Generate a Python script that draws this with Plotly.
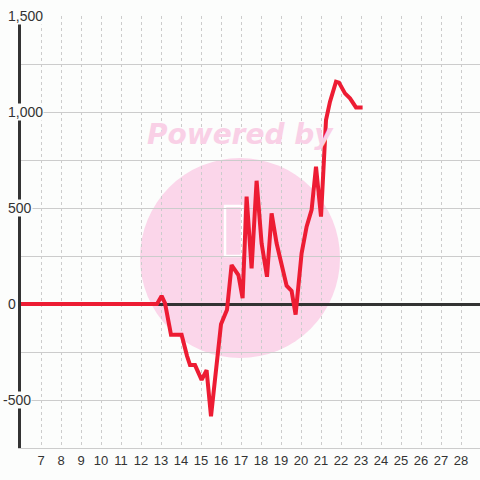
import plotly.graph_objects as go

# ---- data ----
day = [6.0, 12.8, 13.03, 13.2, 13.5, 14.03, 14.3, 14.45, 14.7, 15.03, 15.28, 15.5,
       16.0, 16.3, 16.53, 16.87, 17.08, 17.28, 17.53, 17.78, 18.03, 18.3, 18.53, 18.78,
       19.28, 19.53, 19.73, 20.03, 20.28, 20.53, 20.75, 21.0, 21.25, 21.45, 21.75, 21.9,
       22.2, 22.45, 22.75, 23.08]
value = [0, 0, 42, 5, -160, -160, -270, -318, -318, -395, -345, -585,
         -105, -30, 203, 151, 31, 559, 186, 642, 316, 142, 472, 316,
         95, 68, -55, 264, 403, 490, 715, 455, 958, 1054, 1158, 1153,
         1097, 1071, 1024, 1024]

x_tick_vals = list(range(7, 29))
x_tick_text = [str(v) for v in x_tick_vals]
y_grid_vals = [-750, -500, -250, 0, 250, 500, 750, 1000, 1250, 1500]
y_label_vals = [-500, 0, 500, 1000, 1500]
y_label_text = ["-500", "0", "500", "1,000", "1,500"]

BG = "#fcfdfc"
W, H = 480, 480
ML, MR, MT, MB = 21, 0, 16, 32
PW, PH = W - ML - MR, H - MT - MB
YMIN, YMAX = -750, 1500


def px(x):  # page pixel -> paper
    return (x - ML) / PW


def py(y):
    return (MT + PH - y) / PH


fig = go.Figure()
fig.add_trace(go.Scatter(x=day, y=value, mode="lines",
                         line=dict(color="#ed1c33", width=4), hoverinfo="skip"))

shapes = [
    dict(type="circle", xref="paper", yref="paper", x0=px(140), x1=px(340), y0=py(358), y1=py(158),
         fillcolor="#fbd6ea", line=dict(width=0), layer="below"),
    dict(type="rect", xref="paper", yref="paper", x0=px(225), x1=px(242), y0=py(256), y1=py(206),
         fillcolor="rgba(0,0,0,0)", line=dict(color="white", width=2.5), layer="below"),
]

annotations = [dict(text="Powered by", xref="paper", yref="paper", x=px(240), y=py(134),
                    showarrow=False, xanchor="center", yanchor="middle",
                    font=dict(family="DejaVu Sans", size=28, color="#f9d0e6",
                              weight="bold", style="italic"))]
for v, t in zip(y_label_vals, y_label_text):
    annotations.append(dict(text=t, xref="paper", yref="y", x=px(7), y=v, showarrow=False,
                            xanchor="left", yanchor="middle", bgcolor=BG, borderpad=0,
                            xshift=-5 if t.startswith("-") else 0,
                            font=dict(size=14, color="#333333")))

fig.update_layout(
    width=W, height=H, margin=dict(l=ML, r=MR, t=MT, b=MB),
    paper_bgcolor=BG, plot_bgcolor="rgba(0,0,0,0)", showlegend=False,
    font=dict(family="Liberation Sans, Arial, sans-serif", color="#333333"),
    shapes=shapes, annotations=annotations,
)
fig.update_xaxes(range=[6, 6 + PW / 20], tickmode="array", tickvals=x_tick_vals, ticktext=x_tick_text,
                 showgrid=True, gridcolor="#cccccc", griddash="dot", gridwidth=1,
                 showline=True, linecolor="#cccccc", linewidth=1, zeroline=False,
                 ticks="", tickfont=dict(size=13, color="#333333"))
fig.update_yaxes(range=[YMIN, YMAX], tickmode="array", tickvals=y_grid_vals, showticklabels=False,
                 showgrid=True, gridcolor="#cccccc", gridwidth=1,
                 zeroline=True, zerolinecolor="#333333", zerolinewidth=3,
                 showline=True, linecolor="#333333", linewidth=3, ticks="")

fig.write_html("out.html", config={"displayModeBar": False},
               post_script="document.body.style.margin='0';")
